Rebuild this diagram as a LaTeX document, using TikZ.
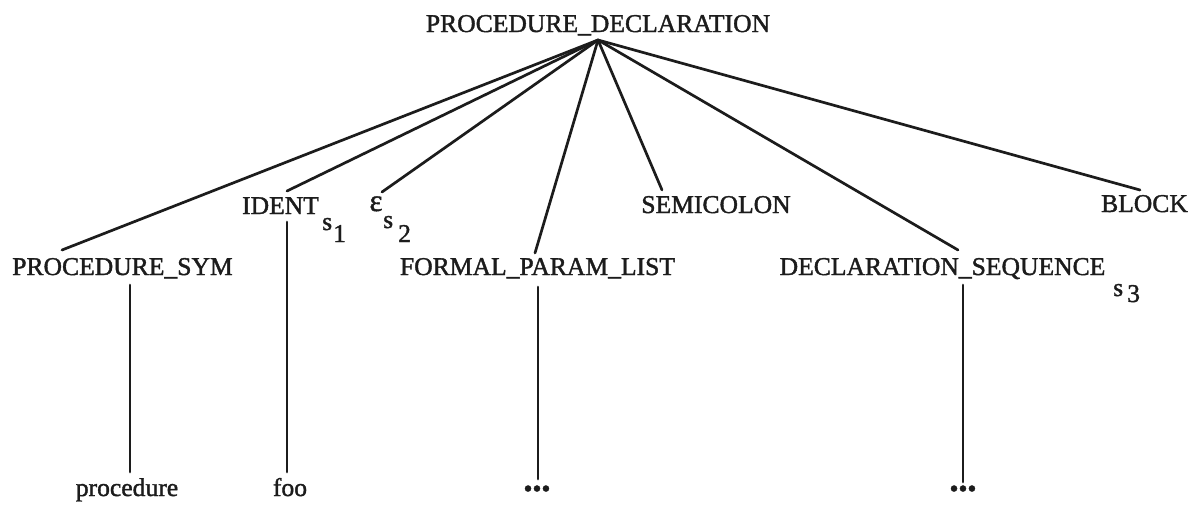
\documentclass[tikz,border=0pt]{standalone}
\usepackage{fontspec}
\setmainfont{Liberation Serif}
\newfontfamily\heavy{Liberation Serif}[FakeBold=1.5]
\definecolor{ink}{HTML}{1C1C1C}
\begin{document}
\begin{tikzpicture}[x=1pt,y=-1pt,
  lbl/.style={inner sep=0pt, anchor=base, font=\heavy\fontsize{25.6}{30}\selectfont, text=ink},
  sub/.style={lbl, anchor=base west},
  edge/.style={line width=2.7pt, draw=ink, line cap=round}]
\useasboundingbox (0,0) rectangle (1197,504);
% nodes
\node[lbl] (root) at (598,32) {PROCEDURE\_DECLARATION};
\node[lbl] (psym) at (122.5,275) {PROCEDURE\_SYM};
\node[lbl] (ident) at (280.5,214) {IDENT};
\node[sub] (s1) at (322,230) {s};
\node[sub] (n1) at (333,242) {1};
\node[lbl, font=\heavy\fontsize{31}{34}\selectfont] (eps) at (376,211) {ε};
\node[sub] (s2) at (383,228) {s};
\node[sub] (n2) at (398,242) {2};
\node[lbl] (fpl) at (537.5,275) {FORMAL\_PARAM\_LIST};
\node[lbl] (semi) at (716,213) {SEMICOLON};
\node[lbl] (decl) at (942.5,275) {DECLARATION\_SEQUENCE};
\node[sub] (s3) at (1113,296) {s};
\node[sub] (n3) at (1127,302) {3};
\node[lbl] (block) at (1144.5,212) {BLOCK};
\node[lbl] (proc) at (127,496) {procedure};
\node[lbl] (foo) at (290,496) {foo};
\node[lbl] (dotsA) at (537,497) {•••};
\node[lbl] (dotsB) at (963,497) {•••};
% connector ends
\coordinate (apex) at (598,40);
\coordinate (psymT) at (62,250);
\coordinate (identT) at (287,191);
\coordinate (epsT) at (382,192);
\coordinate (fplT) at (535,253);
\coordinate (semiT) at (662,190);
\coordinate (declT) at (958,250);
\coordinate (blockT) at (1140,190);
\coordinate (psymB) at (130,285);
\coordinate (procT) at (130,472);
\coordinate (identB) at (287,222);
\coordinate (fooT) at (287,472);
\coordinate (fplB) at (538,287);
\coordinate (dotsAT) at (538,479);
\coordinate (declB) at (963,285);
\coordinate (dotsBT) at (963,482);
% connectors
\foreach \c in {psymT,identT,epsT,fplT,semiT,declT,blockT}
  \draw[edge] (apex) -- (\c);
\draw[edge] (psymB) -- (procT);
\draw[edge] (identB) -- (fooT);
\draw[edge] (fplB) -- (dotsAT);
\draw[edge] (declB) -- (dotsBT);
\end{tikzpicture}
\end{document}
